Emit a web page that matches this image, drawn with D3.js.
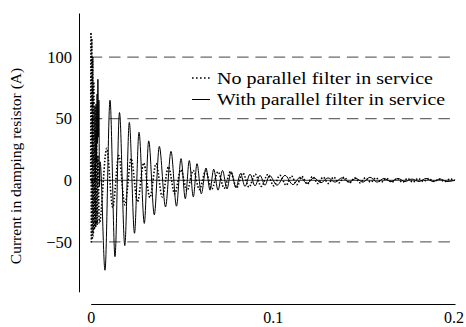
<!DOCTYPE html>
<html>
<head>
<meta charset="utf-8">
<script src="https://cdn.jsdelivr.net/npm/d3@7"></script>
<style>
  html, body { margin: 0; padding: 0; background: #fff; }
  svg { display: block; }
  text { font-family: "Liberation Serif", "Times New Roman", Times, serif; fill: #000; }
</style>
</head>
<body>
<svg id="chart" width="466" height="327"></svg>
<script>
// ---- Data (time in seconds, current in A) ----
// Extrema of the trace without the parallel filter (dotted)
const timeNoFilter = [0, 0.00016, 0.00038, 0.00060, 0.00088, 0.00115, 0.00143, 0.00170, 0.00203, 0.00236,
  0.00275, 0.00313, 0.00357, 0.00401, 0.0047, 0.0088, 0.0121, 0.0154, 0.0188, 0.0222, 0.0257, 0.0291,
  0.0325, 0.0359, 0.0393, 0.0427, 0.0461, 0.0495, 0.0529, 0.0563, 0.0597, 0.0631, 0.0665, 0.0699, 0.0733,
  0.0767, 0.0801, 0.0835, 0.0869, 0.0903, 0.0937, 0.0971, 0.1005, 0.1039, 0.1073, 0.1102, 0.1131, 0.1160,
  0.1189, 0.1218, 0.1247, 0.1276, 0.1305, 0.1334, 0.1363, 0.1392, 0.1421, 0.1450, 0.1479, 0.1508, 0.1537,
  0.1566, 0.1595, 0.1624, 0.1653, 0.1682, 0.1711, 0.1740, 0.1769, 0.1798, 0.1827, 0.1856, 0.1885, 0.1914,
  0.1943, 0.1972, 0.2];
const currentNoFilter = [0, 120, -50, 115, -48, 100, -45, 80, -40, 60,
  -38, 40, -36, 20, -35, 26, -22, 20, -20, 17.5, -17.5, 14,
  -14, 13.5, -13.5, 11, -11, 8.5, -8.5, 8, -7.5, 7.5, -7, 7, -6.5,
  7, -6, 6, -5.5, 5, -5, 4.5, -4.5, 4, -4, 3.5, -3.5, 3,
  -3, 3, -2.5, 2.5, -2.5, 2.5, -2, 2.5, -2, 2, -2, 2, -1.5,
  2, -1.5, 1.5, -1.5, 1.5, -1.5, 1.5, -1.5, 1.5, -1, 1.5, -1, 1,
  -1, 1, 0];

// Extrema of the trace with the parallel filter (solid)
const timeWithFilter = [0, 0.00264, 0.00296, 0.00324, 0.00351, 0.00373, 0.00395, 0.00423, 0.00450, 0.00483,
  0.00516, 0.00785, 0.01060, 0.01334, 0.01581, 0.01872, 0.02119, 0.02405, 0.02652, 0.02943, 0.03184,
  0.03492, 0.03766, 0.04107, 0.04409, 0.04710, 0.04958, 0.05194, 0.05413, 0.05633, 0.05836, 0.06072,
  0.06330, 0.06550, 0.06753, 0.06989, 0.07236, 0.07483, 0.07703, 0.07977, 0.08224, 0.08471, 0.08746,
  0.09020, 0.09295, 0.09569, 0.09816, 0.10228, 0.10667, 0.11106, 0.11491, 0.11875, 0.12259, 0.12643,
  0.13028, 0.13412, 0.13796, 0.14181, 0.14565, 0.14949, 0.15334, 0.15718, 0.16103, 0.16487, 0.16871,
  0.17256, 0.17640, 0.18025, 0.18409, 0.18793, 0.19178, 0.19562, 0.2];
const currentWithFilter = [0, 0, 62, 15, 70, 30, 82, 35, 65, -5,
  15, -73, 65, -62, 55, -53, 47, -43, 39, -35, 32,
  -28, 27.5, -21.6, 23.5, -21, 17.6, -15, 16, -13.5, 13.5, -11,
  10, -8, 9, -8, 8, -7, 7, -6, 5.5, -5, 5,
  -4.5, 4, -4, 4, -4, 4, -3.5, 2.5, -2.5, 2, -2,
  2, -1.5, 2, -1.5, 1.5, -1.5, 2.5, -1.5, 1.5, -1, 1.5,
  -1, 1, -1, 1.5, -1, 1, -1, 0];

const xTickValues = [0, 0.1, 0.2];
const xTickLabels = ["0", "0.1", "0.2"];
const yTickValues = [-50, 0, 50, 100];
const yTickLabels = ["\u221250", "0", "50", "100"];
const gridValues = [100, 50, -50];
const seriesNames = ["No parallel filter in service", "With parallel filter in service"];
const yTitle = "Current in damping resistor (A)";

// ---- Scales ----
const svg = d3.select("#chart");
const x = d3.scaleLinear().domain([0, 0.2]).range([90.7, 455]);
const y = d3.scaleLinear().domain([-90.5, 135.8]).range([291.8, 13]);

// ---- Grid lines ----
svg.append("g").selectAll("line").data(gridValues).join("line")
  .attr("x1", x(0)).attr("x2", x(0.2))
  .attr("y1", d => y(d)).attr("y2", d => y(d))
  .attr("stroke", "#444").attr("stroke-width", 1)
  .attr("stroke-dasharray", "11.5,6.8");
svg.append("line")
  .attr("x1", x(0)).attr("x2", x(0.2))
  .attr("y1", y(0)).attr("y2", y(0))
  .attr("stroke", "#333").attr("stroke-width", 1);

// ---- Axes ----
const yAxis = d3.axisLeft(y).tickValues(yTickValues)
  .tickFormat(d => yTickLabels[yTickValues.indexOf(d)])
  .tickSize(0).tickPadding(7);
const gy = svg.append("g").attr("transform", "translate(79,0)").call(yAxis);
gy.select(".domain").attr("stroke", "#000").attr("stroke-width", 1);
gy.selectAll("text").style("font-size", "16.5px").style("font-family", '"Liberation Serif", serif');

const xAxis = d3.axisBottom(x).tickValues(xTickValues)
  .tickFormat(d => xTickLabels[xTickValues.indexOf(d)])
  .tickSize(0).tickPadding(8);
const gx = svg.append("g").attr("transform", "translate(0,304)").call(xAxis);
gx.select(".domain").attr("stroke", "#000").attr("stroke-width", 1);
gx.selectAll("text").style("font-size", "16px").style("font-family", '"Liberation Serif", serif');
gx.selectAll(".tick").filter(d => d === 0.2).select("text").attr("dx", "-1.5");

// ---- Series ----
const line = d3.line().x(d => x(d[0])).y(d => y(d[1])).curve(d3.curveMonotoneX);
const noFilter = timeNoFilter.map((t, i) => [t, currentNoFilter[i]]);
const withFilter = timeWithFilter.map((t, i) => [t, currentWithFilter[i]]);

svg.append("path").datum(withFilter).attr("d", line)
  .attr("fill", "none").attr("stroke", "#000").attr("stroke-width", 1);
svg.append("path").datum(noFilter).attr("d", line)
  .attr("fill", "none").attr("stroke", "#000").attr("stroke-width", 1.6)
  .attr("stroke-dasharray", "1.5,1.8");

// ---- Legend ----
const legend = svg.append("g");
legend.append("line").attr("x1", 192).attr("x2", 210).attr("y1", 78).attr("y2", 78)
  .attr("stroke", "#000").attr("stroke-width", 1.6).attr("stroke-dasharray", "1.6,2.4");
legend.append("text").attr("x", 217).attr("y", 83.5).style("font-size", "16.5px")
  .attr("textLength", 216).attr("lengthAdjust", "spacingAndGlyphs").text(seriesNames[0]);
legend.append("line").attr("x1", 192).attr("x2", 210).attr("y1", 99.5).attr("y2", 99.5)
  .attr("stroke", "#000").attr("stroke-width", 1);
legend.append("text").attr("x", 217).attr("y", 105).style("font-size", "16.5px")
  .attr("textLength", 228).attr("lengthAdjust", "spacingAndGlyphs").text(seriesNames[1]);

// ---- Y title ----
svg.append("text")
  .attr("transform", "translate(21,166) rotate(-90)")
  .attr("text-anchor", "middle")
  .style("font-size", "15.5px")
  .text(yTitle);
</script>
</body>
</html>
